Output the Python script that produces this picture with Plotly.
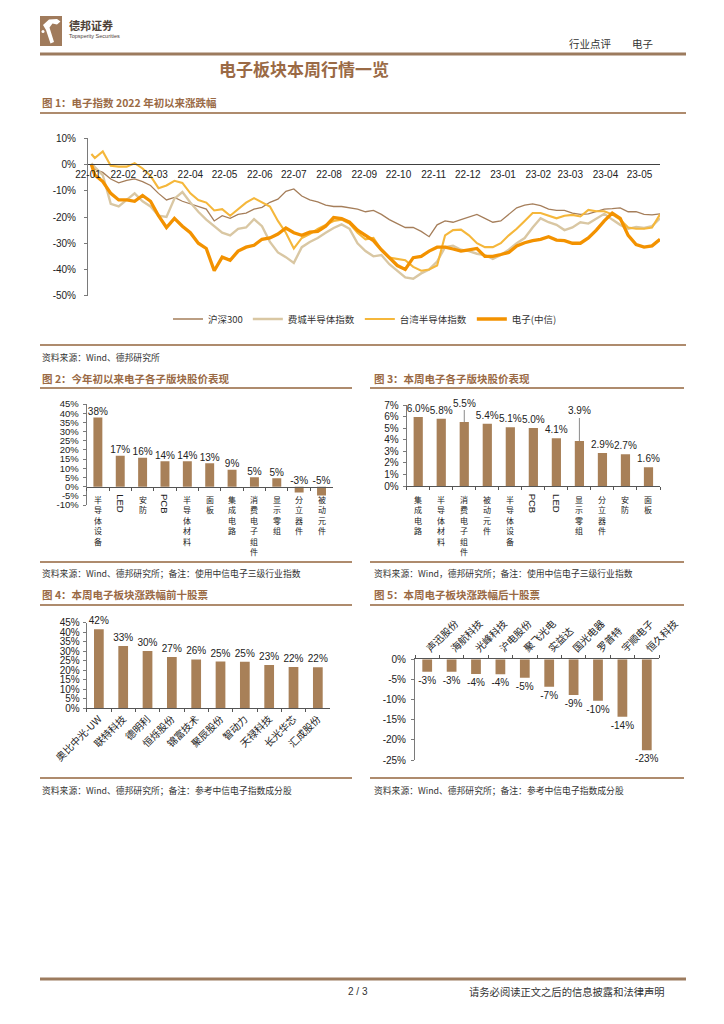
import plotly.graph_objects as go

W, H = 724, 1024


def px(x):
    return x / W


def py(y):
    return 1 - y / H


# ---------------- data ----------------
dates = ["2022-01-04", "2022-01-07", "2022-01-14", "2022-01-21", "2022-01-28",
         "2022-02-04", "2022-02-11", "2022-02-18", "2022-02-25",
         "2022-03-04", "2022-03-11", "2022-03-18", "2022-03-25",
         "2022-04-01", "2022-04-08", "2022-04-15", "2022-04-22", "2022-04-29",
         "2022-05-06", "2022-05-13", "2022-05-20", "2022-05-27",
         "2022-06-03", "2022-06-10", "2022-06-17", "2022-06-24",
         "2022-07-01", "2022-07-08", "2022-07-15", "2022-07-22", "2022-07-29",
         "2022-08-05", "2022-08-12", "2022-08-19", "2022-08-26",
         "2022-09-02", "2022-09-09", "2022-09-16", "2022-09-23", "2022-09-30",
         "2022-10-07", "2022-10-14", "2022-10-21", "2022-10-28",
         "2022-11-04", "2022-11-11", "2022-11-18", "2022-11-25",
         "2022-12-02", "2022-12-09", "2022-12-16", "2022-12-23", "2022-12-30",
         "2023-01-06", "2023-01-13", "2023-01-20", "2023-01-27",
         "2023-02-03", "2023-02-10", "2023-02-17", "2023-02-24",
         "2023-03-03", "2023-03-10", "2023-03-17", "2023-03-24", "2023-03-31",
         "2023-04-07", "2023-04-14", "2023-04-21", "2023-04-28",
         "2023-05-05", "2023-05-12", "2023-05-19"]

hs300 = [-1.0,
         -1.8, -3.0, -5.5, -7.0,
         -6.0, -5.5, -6.5, -8.0,
         -11.0, -13.5, -12.5, -14.0,
         -15.0, -16.0, -17.0, -21.5, -19.5,
         -20.5, -19.0, -18.5, -17.0,
         -16.3, -14.4, -13.2, -10.2,
         -9.3, -12.0, -13.5, -14.2, -15.5,
         -16.0, -16.0, -16.5, -17.0,
         -18.0, -17.5, -19.0, -21.0, -22.5,
         -24.0, -24.0, -25.5, -27.5,
         -23.0, -21.5, -22.0, -21.0,
         -20.0, -19.0, -20.5, -22.0, -21.5,
         -19.0, -16.5, -15.5, -15.0,
         -15.7, -17.0, -17.5, -17.5,
         -18.5, -19.0, -18.8, -17.8, -17.0,
         -16.8, -16.5, -18.0, -18.0,
         -19.0, -19.2, -18.8]

sox = [0.5,
       -1.0, -4.0, -15.0, -16.0,
       -13.5, -11.0, -14.0, -16.0,
       -19.5, -20.0, -13.0, -10.5,
       -14.5, -18.0, -21.0, -23.5, -26.0,
       -27.0, -24.5, -24.0, -20.8,
       -23.5, -29.5, -33.5, -35.3,
       -37.5, -31.5, -29.5, -28.0, -26.0,
       -24.2, -22.8, -24.5, -30.0,
       -33.0, -35.0, -34.5, -38.0, -40.5,
       -43.0, -43.5, -41.5, -40.0,
       -37.0, -31.5, -31.0, -32.5,
       -33.0, -34.0, -34.5, -36.0, -34.5,
       -32.5, -30.0, -28.0, -24.0,
       -20.5, -22.0, -23.0, -25.0,
       -24.0, -22.0, -22.5, -20.5, -18.8,
       -21.0, -23.0, -24.5, -23.8,
       -24.2, -23.5, -20.5]

twse = [4.0,
        2.5, 5.0, -0.5, -0.8,
        -0.8, 0.5, -1.5, -4.3,
        -9.0, -8.0, -6.2, -7.0,
        -11.0, -13.5, -14.5, -17.5, -17.0,
        -19.5, -17.0, -14.5, -12.8,
        -14.5, -16.0, -21.5, -26.0,
        -32.0, -28.0, -26.5, -24.5, -23.0,
        -21.5, -21.0, -22.5, -26.0,
        -28.5, -28.0, -32.5, -35.5, -36.0,
        -36.5, -39.0, -40.5, -40.0,
        -38.5, -27.0, -25.0, -24.8,
        -27.0, -30.0, -31.5, -31.5, -30.0,
        -27.0, -24.5, -21.5, -18.5,
        -18.5, -19.5, -20.5, -19.5,
        -19.2, -19.8, -17.3, -17.8, -17.8,
        -19.0, -21.0, -24.0, -24.5,
        -24.5, -24.0, -19.0]

elec = [0.0,
        -4.0, -6.5, -11.0, -13.5,
        -13.5, -14.0, -11.8, -14.0,
        -19.5, -24.0, -20.5, -23.5,
        -26.0, -30.0, -32.0, -40.5, -35.3,
        -36.5, -33.0, -31.5, -30.8,
        -28.5, -28.0, -26.5, -24.2,
        -26.0, -27.0, -25.8, -25.5, -23.5,
        -20.2, -20.6, -22.0, -25.0,
        -27.0, -29.0, -32.5, -35.5, -38.5,
        -40.0, -35.5, -35.0, -33.0,
        -31.5, -31.5, -32.2, -33.0,
        -32.5, -32.0, -35.0, -35.0, -34.3,
        -33.5, -31.0, -29.8, -29.0,
        -28.5, -27.5, -28.8, -29.0,
        -30.0, -30.0, -28.0, -25.0, -21.5,
        -18.5, -20.5, -27.0, -30.5,
        -31.5, -31.0, -28.5]

series_names = ["沪深300", "费城半导体指数", "台湾半导体指数", "电子(中信)"]
f1_yticks = [10, 0, -10, -20, -30, -40, -50]

f2_cats = ["半导体设备", "LED", "安防", "PCB", "半导体材料", "面板", "集成电路",
           "消费电子组件", "显示零组", "分立器件", "被动元件"]
f2_vals = [37.7, 16.8, 15.7, 13.9, 13.8, 12.8, 9.2, 5.2, 4.6, -3.1, -4.8]
f2_yticks = [45, 40, 35, 30, 25, 20, 15, 10, 5, 0, -5, -10]

f3_cats = ["集成电路", "半导体材料", "消费电子组件", "被动元件", "半导体设备", "PCB",
           "LED", "显示零组", "分立器件", "安防", "面板"]
f3_vals = [5.97, 5.82, 5.53, 5.38, 5.07, 5.01, 4.12, 3.89, 2.86, 2.74, 1.61]
f3_yticks = [7, 6, 5, 4, 3, 2, 1, 0]

f4_names = ["奥比中光-UW", "联特科技", "德明利", "恒烁股份", "锦富技术", "聚辰股份",
            "智动力", "天禄科技", "长光华芯", "汇成股份"]
f4_vals = [41.6, 32.7, 30.1, 27.0, 25.7, 24.6, 24.52, 22.8, 21.7, 21.6]
f4_yticks = [45, 40, 35, 30, 25, 20, 15, 10, 5, 0]

f5_names = ["声迅股份", "海航科技", "光峰科技", "沪电股份", "聚飞光电", "实益达",
            "国光电器", "罗普特", "宇顺电子", "恒久科技"]
f5_vals = [-3.06, -3.06, -3.64, -3.72, -4.55, -6.79, -8.86, -10.26, -14.24, -22.6]
f5_yticks = [0, -5, -10, -15, -20, -25]

# ---------------- style ----------------
LAT = "Liberation Sans, Arial, Noto Sans CJK SC, sans-serif"
CJK = "Noto Sans CJK SC, Liberation Sans, sans-serif"
BROWN = "#9A6A45"
RULE = "#AE8B6D"
BAR = "#A88058"
INK = "#222222"
line_styles = [("#A57E5A", 1.3), ("#D9C7A3", 2.4), ("#F5B73B", 2.1), ("#F39200", 3.3)]

fig = go.Figure()

for name, vals, (color, width) in zip(series_names, [hs300, sox, twse, elec], line_styles):
    fig.add_trace(go.Scatter(x=dates, y=vals, name=name, mode="lines",
                             line=dict(color=color, width=width),
                             xaxis="x", yaxis="y", hoverinfo="skip"))

# figure 2
fig.add_trace(go.Bar(x=f2_cats, y=f2_vals, width=0.4, marker=dict(color=BAR, line=dict(width=0)),
                     xaxis="x2", yaxis="y2", showlegend=False, hoverinfo="skip"))
fig.add_trace(go.Scatter(x=f2_cats, y=[max(v, 0) for v in f2_vals], mode="text",
                         text=[f"{v:.0f}%" for v in f2_vals], textposition="top center",
                         textfont=dict(family=LAT, size=10, color=INK),
                         xaxis="x2", yaxis="y2", showlegend=False, cliponaxis=False, hoverinfo="skip"))

# figure 3
f3_lift = {"消费电子组件": 19, "显示零组": 30}  # dragged labels with leader lines (px)
fig.add_trace(go.Bar(x=f3_cats, y=f3_vals, width=0.4, marker=dict(color=BAR, line=dict(width=0)),
                     text=["" if c in f3_lift else f"{v:.1f}%" for c, v in zip(f3_cats, f3_vals)],
                     textposition="outside", constraintext="none", cliponaxis=False,
                     textfont=dict(family=LAT, size=10, color=INK),
                     xaxis="x3", yaxis="y3", showlegend=False, hoverinfo="skip"))

# figure 4
fig.add_trace(go.Bar(x=f4_names, y=f4_vals, width=0.4, marker=dict(color=BAR, line=dict(width=0)),
                     text=[f"{v:.0f}%" for v in f4_vals], textposition="outside",
                     constraintext="none", cliponaxis=False,
                     textfont=dict(family=LAT, size=10, color=INK),
                     xaxis="x4", yaxis="y4", showlegend=False, hoverinfo="skip"))

# figure 5
fig.add_trace(go.Bar(x=f5_names, y=f5_vals, width=0.4, marker=dict(color=BAR, line=dict(width=0)),
                     text=[f"{v:.0f}%" for v in f5_vals], textposition="outside",
                     constraintext="none", cliponaxis=False,
                     textfont=dict(family=LAT, size=10, color=INK),
                     xaxis="x5", yaxis="y5", showlegend=False, hoverinfo="skip"))

tick_font = dict(family=LAT, size=10, color=INK)
cat_font = dict(family=CJK, size=10, color=INK)
AX = "#7a7a7a"


def yax(domain_px, rng, ticks, anchor, standoff, size=10):
    return dict(domain=[py(domain_px[0]), py(domain_px[1])], range=rng, tickvals=ticks,
                ticktext=[f"{v}%" for v in ticks], showline=True, linecolor=AX, linewidth=1,
                ticks="outside", ticklen=3, tickcolor=AX, tickfont=dict(family=LAT, size=size, color=INK),
                showgrid=False, zeroline=False, anchor=anchor, ticklabelstandoff=standoff,
                fixedrange=True, automargin=False)


def xcat(domain_px, n, **kw):
    d = dict(domain=[px(domain_px[0]), px(domain_px[1])], type="category", range=[-0.5, n - 0.5],
             showline=True, linecolor="#555555", linewidth=1, ticks="outside", ticklen=3,
             tickcolor="#555555", tickson="boundaries", showgrid=False, zeroline=False,
             fixedrange=True, automargin=False)
    d.update(kw)
    return d


layout = dict(
    template="none",
    width=W, height=H, autosize=False, margin=dict(l=0, r=0, t=0, b=0, pad=0, autoexpand=False),
    paper_bgcolor="white", plot_bgcolor="white", bargap=0.6,
    showlegend=True,
    legend=dict(orientation="h", x=px(168), y=py(319), xanchor="left", yanchor="middle",
                font=dict(family=CJK, size=9.5, color="#333"), bgcolor="rgba(0,0,0,0)",
                itemwidth=30, tracegroupgap=0, itemclick=False, itemdoubleclick=False),
    xaxis=dict(domain=[px(88), px(660)], type="date", range=["2022-01-01", "2023-05-19"],
               anchor="free", position=py(164), showline=True, linecolor="#404040", linewidth=1,
               ticks="", dtick="M1", tick0="2022-01-01", tickformat="%y-%m", tickfont=tick_font,
               showgrid=False, zeroline=False, fixedrange=True, automargin=False,
               ticklabelstandoff=1),
    yaxis=yax((295.7, 138.3), [-50, 10], f1_yticks, "x", 6),
    xaxis2=xcat((86.7, 332.7), len(f2_cats), anchor="free", position=py(486.7), showticklabels=False),
    yaxis2=yax((505.1, 404.0), [-10, 45], f2_yticks, "x2", 2, 9.5),
    xaxis3=xcat((406.7, 660), len(f3_cats), anchor="y3", showticklabels=False),
    yaxis3=yax((486.0, 405.0), [0, 7], f3_yticks, "x3", 2),
    xaxis4=xcat((86.7, 330), len(f4_names), anchor="y4", tickangle=-45, tickfont=cat_font),
    yaxis4=yax((708.3, 622.7), [0, 45], f4_yticks, "x4", 1),
    xaxis5=xcat((415, 659), len(f5_names), anchor="y5", side="top", tickangle=-45, tickfont=cat_font),
    yaxis5=yax((760.0, 659.3), [-25, 0], f5_yticks, "x5", 3),
)
fig.update_layout(**layout)

# ---------------- page texts ----------------
ann = []


def txt(x, y, s, size=9, color="#333", bold=False, xanchor="left", family=CJK):
    ann.append(dict(x=px(x), y=py(y), xref="paper", yref="paper",
                    text=f"<b>{s}</b>" if bold else s, showarrow=False,
                    xanchor=xanchor, yanchor="middle", font=dict(size=size, color=color, family=family)))


txt(67, 25, "德邦证券", 11, "#4d4036", True)
txt(67, 36, "Topsperity Securities", 5.5, "#4d4036", False, family=LAT)
txt(567, 43, "行业点评", 10.5, "#333")
txt(630, 43, "电子", 10.5, "#333")
txt(304, 68, "电子板块本周行情一览", 17, BROWN, True, "center")
txt(40, 102, "图 1：电子指数 2022 年初以来涨跌幅", 10.5, BROWN, True)
txt(40, 357, "资料来源：Wind、德邦研究所", 8.8, "#333")
txt(40, 378, "图 2：今年初以来电子各子版块股价表现", 10.5, BROWN, True)
txt(372, 378, "图 3：本周电子各子版块股价表现", 10.5, BROWN, True)
txt(40, 573, "资料来源：Wind、德邦研究所；备注：使用中信电子三级行业指数", 8.8, "#333")
txt(372, 573, "资料来源：Wind，德邦研究所；备注：使用中信电子三级行业指数", 8.8, "#333")
txt(40, 594, "图 4：本周电子板块涨跌幅前十股票", 10.5, BROWN, True)
txt(372, 594, "图 5：本周电子板块涨跌幅后十股票", 10.5, BROWN, True)
txt(40, 790, "资料来源：Wind、德邦研究所；备注：参考中信电子指数成分股", 8.8, "#333")
txt(372, 790, "资料来源：Wind、德邦研究所；备注：参考中信电子指数成分股", 8.8, "#333")
txt(358, 991, "2 / 3", 10, "#333", False, "center", LAT)
txt(467, 991, "请务必阅读正文之后的信息披露和法律声明", 10.3, "#333")

# vertical category labels for figures 2 and 3
for cats, xr, ytop in [(f2_cats, "x2", 492), (f3_cats, "x3", 492)]:
    for c in cats:
        latin = c.isascii()
        ann.append(dict(x=c, xref=xr, y=py(ytop), yref="paper",
                        text=c if latin else "<br>".join(c), showarrow=False,
                        xanchor="center", yanchor="top", textangle=90 if latin else 0,
                        font=dict(family=LAT if latin else CJK, size=9.5 if latin else 8, color=INK)))

# dragged value labels with leader lines (figure 3)
for c, v in zip(f3_cats, f3_vals):
    if c in f3_lift:
        ann.append(dict(x=c, y=v, xref="x3", yref="y3", text=f"{v:.1f}%", showarrow=True,
                        arrowhead=0, arrowwidth=1, arrowcolor="#8a8a8a", ax=0, ay=-f3_lift[c],
                        standoff=0, font=dict(family=LAT, size=10, color=INK)))

fig.update_layout(annotations=ann)

# ---------------- rules & logo ----------------
shapes = []


def hline(y, x0, x1, width=1.8, color=RULE):
    shapes.append(dict(type="line", xref="paper", yref="paper", x0=px(x0), x1=px(x1),
                       y0=py(y), y1=py(y), line=dict(color=color, width=width)))


hline(54, 40, 686, 3, "#9C7B5E")
hline(113, 40, 686)
hline(345, 40, 686)
hline(388, 40, 352)
hline(388, 370, 684)
hline(562, 40, 352)
hline(562, 370, 684)
hline(605, 40, 352)
hline(605, 370, 684)
hline(778, 40, 352)
hline(778, 370, 684)
hline(979, 40, 686, 3, "#9C7B5E")

shapes.append(dict(type="rect", xref="paper", yref="paper", x0=px(40), x1=px(62), y0=py(46), y1=py(16),
                   fillcolor="#A07B5C", line=dict(width=0)))
logo_pts = [(43, 25), (49, 19.5), (57, 19), (60.5, 21.5), (57, 24.5), (52.5, 23.5), (49.5, 27.5),
            (54, 42), (50.5, 43.5), (46, 30)]
path = "M " + " L ".join(f"{px(a):.5f},{py(b):.5f}" for a, b in logo_pts) + " Z"
shapes.append(dict(type="path", xref="paper", yref="paper", path=path, fillcolor="white",
                   line=dict(width=0)))
shapes.append(dict(type="circle", xref="paper", yref="paper", x0=px(41.5), x1=px(44.5),
                   y0=py(33), y1=py(30), fillcolor="white", line=dict(width=0)))
fig.update_layout(shapes=shapes)

fig.write_html("out.html", config=dict(displayModeBar=False, responsive=False),
               post_script="document.body.style.margin='0';document.body.style.overflow='hidden';")
